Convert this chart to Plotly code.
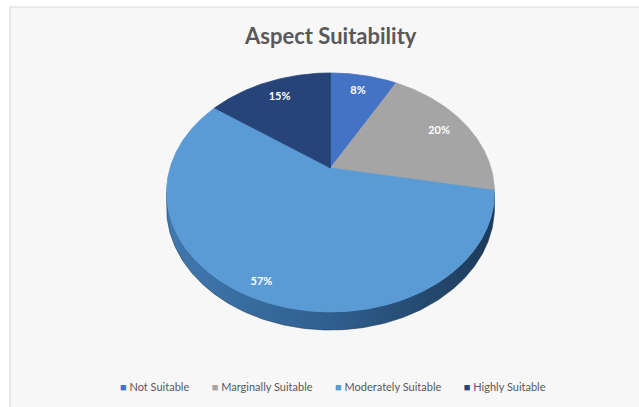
import numpy as np
import plotly.graph_objects as go

# ---- data ----
categories = ["Not Suitable", "Marginally Suitable", "Moderately Suitable", "Highly Suitable"]
values = [8, 20, 57, 15]

# ---- style ----
colors = ["#4472C4", "#A5A5A5", "#5B9BD5", "#264478"]
side_scales = [
    [[0, "#34599a"], [1, "#22396a"]],
    [[0, "#858585"], [1, "#5e5e5e"]],
    [[0, "#4079b0"], [0.5, "#2f5f8e"], [1, "#1d3a5a"]],
    [[0, "#1f3862"], [1, "#16284a"]],
]
label_radius = [0.8, 0.8, 0.9, 0.8]
title_text = "Aspect Suitability"

W, H = 639, 407
CX, CY = 330.5, 168       # apex of pie (pixels)
R = 160.5                 # horizontal radius
A = 114.5                 # vertical radius factor
P = 0.205                 # perspective strength
DEPTH = 14.3              # pie thickness


def project(fr, phi_deg):
    phi = np.radians(phi_deg)
    X = fr * np.sin(phi)
    D = fr * np.cos(phi)
    k = 1.0 / (1.0 + P * D)
    return CX + R * X * k, CY - A * D * k, k


total = float(sum(values))
bounds = np.concatenate([[0], np.cumsum(values)]) / total * 360.0
phi_sil = np.degrees(np.arccos(-P))
vis_lo, vis_hi = phi_sil, 360.0 - phi_sil

fig = go.Figure()

# side walls
for i in range(len(values)):
    lo = max(bounds[i], vis_lo)
    hi = min(bounds[i + 1], vis_hi)
    if lo >= hi:
        continue
    ang = np.linspace(lo, hi, 200)
    xt, yt, k = project(1.0, ang)
    yb = yt + DEPTH * k
    xs = np.concatenate([xt, xt[::-1], xt[:1]])
    ys = np.concatenate([yt, yb[::-1], yt[:1]])
    fig.add_trace(go.Scatter(
        x=xs, y=ys, mode="lines", fill="toself",
        line=dict(width=0.6, color=side_scales[i][-1][1]),
        fillgradient=dict(type="horizontal", colorscale=side_scales[i]),
        hoverinfo="skip", showlegend=False))

# top faces
for i in range(len(values)):
    ang = np.linspace(bounds[i], bounds[i + 1], max(int((bounds[i + 1] - bounds[i]) * 2), 10))
    xa, ya, _ = project(1.0, ang)
    xs = np.concatenate([[CX], xa, [CX]])
    ys = np.concatenate([[CY], ya, [CY]])
    fig.add_trace(go.Scatter(
        x=xs, y=ys, mode="lines", fill="toself", fillcolor=colors[i],
        line=dict(width=0.8, color=colors[i]),
        name=categories[i], hoverinfo="name", showlegend=False))

# data labels
lx, ly, lt = [], [], []
for i, v in enumerate(values):
    mid = (bounds[i] + bounds[i + 1]) / 2
    x, y, _ = project(label_radius[i], mid)
    lx.append(x)
    ly.append(y)
    lt.append(f"{v / total * 100:.0f}%")
fig.add_trace(go.Scatter(
    x=lx, y=ly, mode="text", text=lt,
    textfont=dict(family="Lato, Open Sans, sans-serif", size=11, color="white", weight="bold"),
    hoverinfo="skip", showlegend=False))

# legend (as text row)
legend_parts = [
    f"<span style='color:{c}'>■</span> {n}" for c, n in zip(colors, categories)
]
legend_text = "        ".join(legend_parts)

fig.update_layout(
    width=W, height=H, autosize=False,
    margin=dict(l=0, r=0, t=0, b=0),
    paper_bgcolor="white", plot_bgcolor="white",
    xaxis=dict(range=[0, W], visible=False, fixedrange=True),
    yaxis=dict(range=[H, 0], visible=False, fixedrange=True),
    showlegend=False,
    shapes=[dict(type="rect", xref="x", yref="y", x0=10, y0=7, x1=W + 30, y1=H + 30,
                 fillcolor="#f7f7f7", line=dict(color="#d9d9d9", width=1), layer="below")],
    annotations=[
        dict(text=f"<b>{title_text}</b>", x=330, y=35, xref="x", yref="y",
             showarrow=False, font=dict(family="Lato, Open Sans, sans-serif", size=22, color="#595959")),
        dict(text=legend_text, x=333, y=386, xref="x", yref="y", showarrow=False,
             font=dict(family="Lato, Open Sans, sans-serif", size=11, color="#595959")),
    ],
)

fig.write_html(
    "out.html",
    config={"displayModeBar": False},
    post_script="document.body.style.margin='0';document.body.style.overflow='hidden';",
)
